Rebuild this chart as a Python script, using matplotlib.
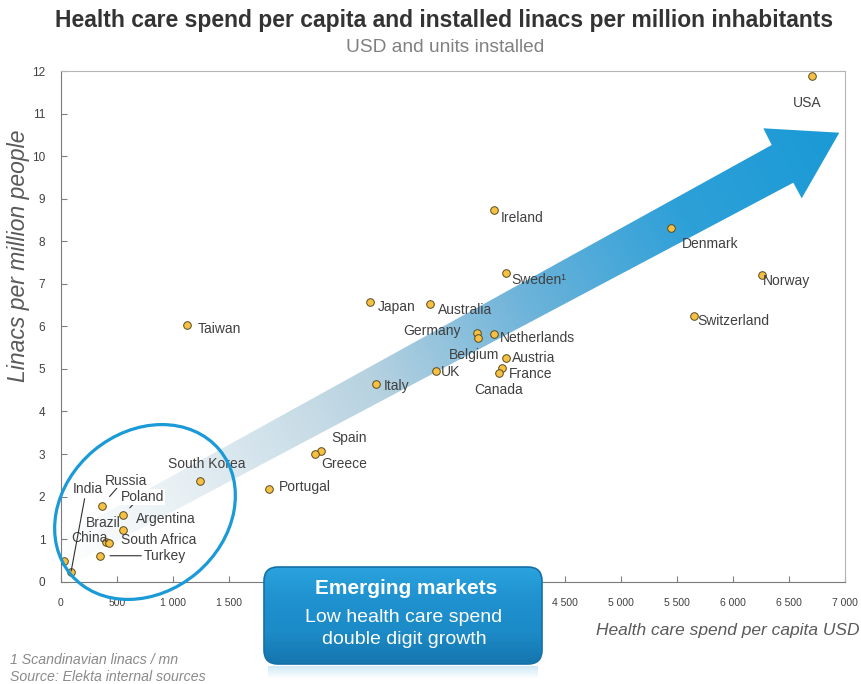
import matplotlib
matplotlib.use("Agg")
import matplotlib.pyplot as plt
import numpy as np
from matplotlib.patches import Ellipse, Polygon, FancyBboxPatch, Rectangle
from matplotlib.colors import LinearSegmentedColormap
from matplotlib.transforms import IdentityTransform

plt.rcParams['font.family'] = ['Liberation Sans', 'DejaVu Sans']

W, H = 862, 684

countries = ['USA', 'Denmark', 'Norway', 'Switzerland', 'Ireland', 'Sweden¹',
             'Japan', 'Australia', 'Germany', 'Belgium', 'Netherlands', 'Austria',
             'France', 'Canada', 'UK', 'Italy', 'Taiwan', 'Spain', 'Greece',
             'Portugal', 'South Korea', 'Russia', 'Poland', 'Argentina', 'Brazil',
             'South Africa', 'China', 'India', 'Turkey']
spend = [6702, 5442, 6259, 5650, 3866, 3970,
         2759, 3295, 3711, 3720, 3868, 3973,
         3934, 3910, 3348, 2813, 1127, 2322, 2269,
         1858, 1243, 366, 553, 553, 404,
         431, 32, 92, 351]
linacs = [11.88, 8.32, 7.21, 6.24, 8.73, 7.26,
          6.57, 6.52, 5.85, 5.72, 5.82, 5.25,
          5.03, 4.90, 4.96, 4.65, 6.03, 3.07, 3.00,
          2.18, 2.37, 1.79, 1.57, 1.21, 0.94,
          0.90, 0.49, 0.23, 0.61]

x_ticks = np.arange(0, 7001, 500)
y_ticks = np.arange(0, 13, 1)

# label placement: pixel offset from the point (right, down) and alignment
label_pos = {
    'USA': (-5, 27, 'center'), 'Denmark': (11, 16, 'left'), 'Norway': (1, 6, 'left'),
    'Switzerland': (3, 5, 'left'), 'Ireland': (7, 8, 'left'), 'Sweden¹': (6, 7, 'left'),
    'Japan': (8, 5, 'left'), 'Australia': (8, 6, 'left'), 'Germany': (-16, -2, 'right'),
    'Belgium': (-4, 17, 'center'), 'Netherlands': (6, 4, 'left'), 'Austria': (6, 0, 'left'),
    'France': (7, 6, 'left'), 'Canada': (0, 17, 'center'), 'UK': (5, 1, 'left'),
    'Italy': (8, 2, 'left'), 'Taiwan': (11, 4, 'left'), 'Spain': (10, -13, 'left'),
    'Greece': (6, 10, 'left'), 'Portugal': (10, -2, 'left'), 'South Korea': (7, -17, 'center'),
    'Russia': (3, -25, 'left'), 'Poland': (-2, -18, 'left'), 'Argentina': (13, -11, 'left'),
    'Brazil': (-20, -19, 'left'), 'South Africa': (12, -3, 'left'), 'China': (7, -23, 'left'),
    'India': (2, -83, 'left'), 'Turkey': (44, 0, 'left'),
}
# leader lines: (relpos on text, shrink at point in px)
leaders = {'India': ((0.4, 0.0), 1), 'Russia': ((0.3, 0.0), 12),
           'Poland': ((0.3, 0.0), 10), 'Turkey': ((0.0, 0.5), 10)}

fig = plt.figure(figsize=(W / 100, H / 100), dpi=100)
x0, x1, ytop, ybot = 60.7, 845.3, 71.0, 581.7
ax = fig.add_axes([x0 / W, (H - ybot) / H, (x1 - x0) / W, (ybot - ytop) / H])
ax.set_xlim(0, 7000)
ax.set_ylim(0, 12)
ax.set_xticks(x_ticks)
ax.set_yticks(y_ticks)
ax.set_xticklabels([f"{v:,}".replace(',', ' ') for v in x_ticks])
ax.tick_params(direction='in', length=4, color='#808080', labelsize=7.5,
               labelcolor='#404040')
ax.tick_params(axis='x', pad=12)
ax.tick_params(axis='y', pad=11, labelsize=8.5)
for s in ['left', 'bottom']:
    ax.spines[s].set_color('#7a7a7a')
for s in ['top', 'right']:
    ax.spines[s].set_color('#b4b4b4')


def to_data(px, py):
    return ax.transData.inverted().transform((px, H - py))


def ftext(px, py, s, **kw):
    # figure text placed by pixel position, y measured from the top
    return fig.text(px / W, 1 - py / H, s, **kw)


# gradient arrow (pixel layout, y down)
arrow_px = [(60, 538), (771.7, 145), (763.3, 128.3), (839.3, 132.7),
            (801.7, 198.3), (793.3, 182.7), (60, 571.3)]
arrow_data = [to_data(*p) for p in arrow_px]
poly = Polygon(arrow_data, closed=True, facecolor='none', edgecolor='none')
ax.add_patch(poly)
cmap = LinearSegmentedColormap.from_list('arr', [
    (0.0, '#ffffff'), (0.15, '#e8f0f4'), (0.4, '#b7d2e0'),
    (0.6, '#6cb3da'), (0.8, '#2ea0d8'), (1.0, '#1a9ad6')])
gx, gy = np.meshgrid(np.arange(55, 846), np.arange(120, 580))
p0, p1 = np.array([60, 555]), np.array([839, 133])
d = p1 - p0
t = ((gx - p0[0]) * d[0] + (gy - p0[1]) * d[1]) / (d @ d)
img = cmap(np.clip(t, 0, 1))
e0 = to_data(55, 580)
e1 = to_data(846, 120)
im = ax.imshow(img, extent=(e0[0], e1[0], e0[1], e1[1]), origin='upper',
               aspect='auto', zorder=1, interpolation='bilinear')
im.set_clip_path(poly)
ax.set_xlim(0, 7000)
ax.set_ylim(0, 12)

ax.scatter(spend, linacs, s=30, color='#f6c142', edgecolor='#5a4a20',
           linewidth=0.7, zorder=4)

for name, xv, yv in zip(countries, spend, linacs):
    dx, dy, ha = label_pos[name]
    kw = {}
    if name in leaders:
        rel, shr = leaders[name]
        kw['arrowprops'] = dict(arrowstyle='-', color='#303030', lw=0.8,
                                shrinkA=0, shrinkB=shr * 0.72, relpos=rel)
    bbox = None
    if name in ('Russia', 'Poland'):
        bbox = dict(boxstyle='square,pad=0.05', fc='white', ec='none')
    ax.annotate(name, (xv, yv), xytext=(dx, -dy), textcoords='offset pixels',
                ha=ha, va='center', fontsize=10, color='#404040', zorder=5,
                bbox=bbox, **kw)

# emerging markets ellipse
ell = Ellipse((145, H - 512), 194, 160, angle=40, transform=IdentityTransform(),
              fill=False, edgecolor='#1a9ad6', lw=2.3, zorder=6)
fig.add_artist(ell)

# reflection under callout box
for i in range(12):
    fig.add_artist(Rectangle((268, H - 667 - i), 270, 1, transform=IdentityTransform(),
                             facecolor='#8ccbea', edgecolor='none',
                             alpha=0.4 * (1 - i / 12), zorder=9))

# callout box: its own axes in pixel units
bx, by, bw, bh = 263, 566, 280, 99
axb = fig.add_axes([bx / W, (H - by - bh) / H, bw / W, bh / H], zorder=10)
axb.set_xlim(0, bw)
axb.set_ylim(0, bh)
axb.axis('off')
box = FancyBboxPatch((1, 1), bw - 2, bh - 2, boxstyle='round,pad=0,rounding_size=14',
                     facecolor='none', edgecolor='#1570a8', lw=1.2, zorder=3)
axb.add_patch(box)
bcmap = LinearSegmentedColormap.from_list('box', ['#2ba4de', '#1f92cf', '#1c8bc8', '#1675ad'])
grad = bcmap(np.linspace(0, 1, 100))[:, None, :]
bim = axb.imshow(np.repeat(grad, 4, axis=1), extent=(0, bw, 0, bh), origin='upper',
                 aspect='auto', zorder=1)
bim.set_clip_path(box)
axb.text(bw / 2 + 3, bh - 22, 'Emerging markets', ha='center', va='center', fontsize=15,
         fontweight='bold', color='white', zorder=4)
axb.text(bw / 2 + 1, bh - 52, 'Low health care spend', ha='center', va='center',
         fontsize=14, color='white', zorder=4)
axb.text(bw / 2 + 1, bh - 73, 'double digit growth', ha='center', va='center',
         fontsize=14, color='white', zorder=4)

ftext(444, 20, 'Health care spend per capita and installed linacs per million inhabitants',
      ha='center', va='center', fontsize=16.5, fontweight='bold', color='#333333')
ftext(445, 47, 'USD and units installed', ha='center', va='center',
      fontsize=13.8, color='#808080')
ftext(19, 256, 'Linacs per million people', rotation=90, ha='center',
      va='center', fontsize=16.5, style='italic', color='#5a5a5a')
ftext(860, 631, 'Health care spend per capita USD', ha='right', va='center',
      fontsize=12.5, style='italic', color='#5a5a5a')
ftext(10, 660, '1 Scandinavian linacs / mn', ha='left', va='center',
      fontsize=10.2, style='italic', color='#8a8a8a')
ftext(10, 677, 'Source: Elekta internal sources', ha='left', va='center',
      fontsize=10.2, style='italic', color='#8a8a8a')

fig.savefig('out.png', dpi=100)
